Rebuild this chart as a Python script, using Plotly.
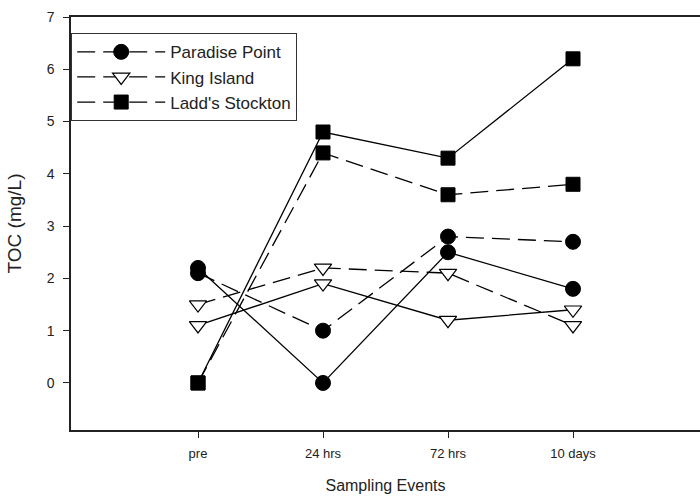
import plotly.graph_objects as go

categories = ["pre", "24 hrs", "72 hrs", "10 days"]
x_pos = [1, 2, 3, 4]

series_names = ["Paradise Point", "King Island", "Ladd's Stockton"]
paradise_solid = [2.2, 0.0, 2.5, 1.8]
paradise_dashed = [2.1, 1.0, 2.8, 2.7]
king_solid = [1.1, 1.9, 1.2, 1.4]
king_dashed = [1.5, 2.2, 2.1, 1.1]
ladd_solid = [0.0, 4.8, 4.3, 6.2]
ladd_dashed = [0.0, 4.4, 3.6, 3.8]

y_ticks = [0, 1, 2, 3, 4, 5, 6, 7]

FONT = "Liberation Sans, Arial, sans-serif"
DASH = "18px,8px"

markers = {
    "Paradise Point": dict(symbol="circle", size=15, color="black", line=dict(color="black", width=1)),
    "King Island": dict(symbol="triangle-down", size=15, color="white", line=dict(color="black", width=1.2)),
    "Ladd's Stockton": dict(symbol="square", size=14, color="black", line=dict(color="black", width=1)),
}

fig = go.Figure()
solids = [paradise_solid, king_solid, ladd_solid]
dasheds = [paradise_dashed, king_dashed, ladd_dashed]

for name, vals in zip(series_names, solids):
    fig.add_trace(go.Scatter(x=x_pos, y=vals, mode="lines+markers", name=name,
                             showlegend=False,
                             line=dict(color="black", width=1.3),
                             marker=markers[name]))
for name, vals in zip(series_names, dasheds):
    fig.add_trace(go.Scatter(x=x_pos, y=vals, mode="lines+markers", name=name,
                             line=dict(color="black", width=1.3, dash=DASH),
                             marker=markers[name]))

fig.update_layout(
    width=700, height=498,
    margin=dict(l=71, r=0, t=17, b=68, autoexpand=False),
    plot_bgcolor="white", paper_bgcolor="white",
    font=dict(family=FONT, size=13, color="#222"),
    legend=dict(x=0, y=0.961, xanchor="left", yanchor="top",
                bgcolor="white", bordercolor="#333", borderwidth=1.2,
                font=dict(family=FONT, size=17, color="#222"),
                itemwidth=88, tracegroupgap=0),
    xaxis=dict(range=[-0.016, 5.016], tickvals=x_pos, ticktext=categories,
               showline=True, linecolor="#222", linewidth=1.5, mirror=True,
               ticks="outside", ticklen=6, tickcolor="#222", showgrid=False, zeroline=False,
               automargin=False, tickfont=dict(size=13), ticklabelstandoff=5,
               title=dict(text="Sampling Events", font=dict(size=16), standoff=19)),
    yaxis=dict(range=[-0.9, 7], tickvals=y_ticks,
               showline=True, linecolor="#222", linewidth=1.5,
               ticks="outside", ticklen=6, tickcolor="#222", showgrid=False, zeroline=False,
               automargin=False, tickfont=dict(size=14), ticklabelstandoff=6,
               title=dict(text="TOC (mg/L)", font=dict(size=19), standoff=20)),
)

fig.write_html("out.html", config={"displayModeBar": False},
               post_script="document.body.style.margin='0';document.body.style.overflow='hidden';")
